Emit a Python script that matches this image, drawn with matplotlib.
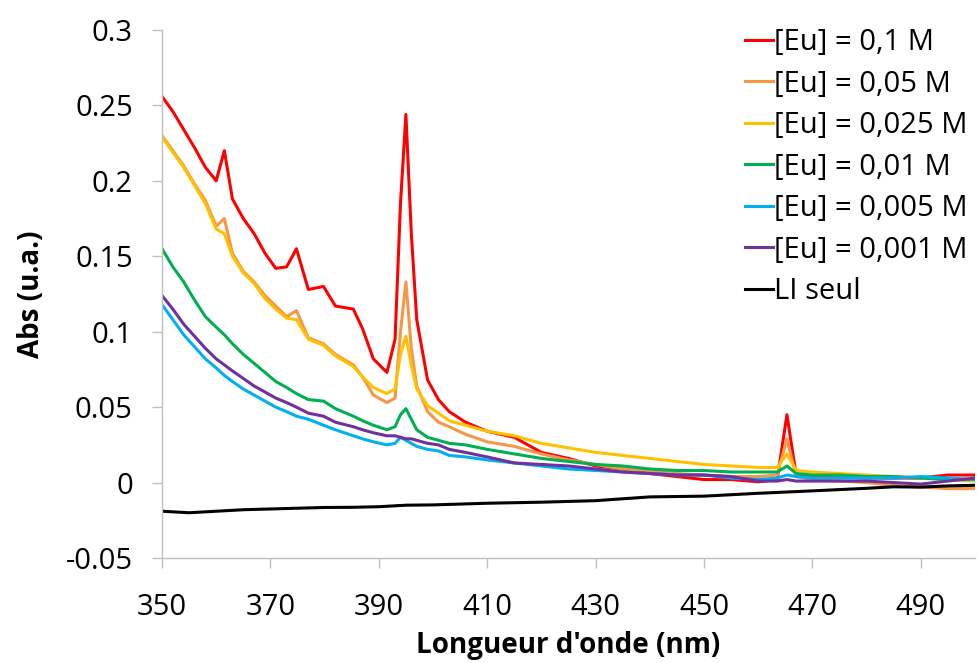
import matplotlib
matplotlib.use("Agg")
import matplotlib.pyplot as plt

plt.rcParams['font.family'] = ['Open Sans', 'DejaVu Sans']

wl = [350, 352, 354, 356, 358, 360, 361.5, 363, 365, 367, 369, 371, 373, 374.8, 377,
      379.8, 382, 385.3, 387, 389, 391.5, 393, 394, 395, 396, 397, 399, 401, 403, 406,
      410, 415, 420, 425, 430, 435, 440, 445, 450, 455, 460, 463.5, 465.3, 467, 470,
      475, 480, 485, 490, 495, 500]

eu_01 = [0.256, 0.246, 0.234, 0.222, 0.209, 0.200, 0.220, 0.188, 0.175, 0.165, 0.152,
         0.142, 0.143, 0.155, 0.128, 0.130, 0.117, 0.115, 0.102, 0.082, 0.073, 0.095,
         0.185, 0.244, 0.165, 0.108, 0.068, 0.055, 0.047, 0.040, 0.034, 0.030, 0.020,
         0.016, 0.011, 0.009, 0.006, 0.004, 0.002, 0.002, 0.0005, 0.002, 0.045, 0.005,
         0.004, 0.004, 0.003, 0.003, 0.003, 0.005, 0.005]

eu_005 = [0.230, 0.220, 0.210, 0.198, 0.187, 0.170, 0.175, 0.152, 0.140, 0.133, 0.124,
          0.117, 0.110, 0.114, 0.096, 0.092, 0.085, 0.078, 0.070, 0.058, 0.053, 0.056,
          0.100, 0.133, 0.089, 0.064, 0.047, 0.040, 0.037, 0.032, 0.027, 0.024, 0.019,
          0.015, 0.012, 0.009, 0.008, 0.006, 0.005, 0.004, 0.004, 0.005, 0.029, 0.004,
          0.002, 0.001, 0.000, -0.002, -0.003, -0.004, -0.004]

eu_0025 = [0.229, 0.219, 0.209, 0.197, 0.185, 0.168, 0.165, 0.150, 0.139, 0.132, 0.122,
           0.115, 0.109, 0.108, 0.095, 0.091, 0.084, 0.077, 0.070, 0.063, 0.059, 0.062,
           0.085, 0.097, 0.078, 0.062, 0.051, 0.046, 0.041, 0.038, 0.034, 0.031, 0.026,
           0.023, 0.020, 0.018, 0.016, 0.014, 0.012, 0.011, 0.010, 0.010, 0.019, 0.008,
           0.007, 0.006, 0.005, 0.004, 0.003, 0.002, 0.001]

eu_001 = [0.155, 0.143, 0.133, 0.121, 0.110, 0.103, 0.098, 0.092, 0.085, 0.079, 0.073,
          0.067, 0.063, 0.059, 0.055, 0.054, 0.049, 0.044, 0.041, 0.038, 0.035, 0.037,
          0.045, 0.049, 0.042, 0.035, 0.030, 0.028, 0.026, 0.025, 0.022, 0.019, 0.016,
          0.014, 0.012, 0.011, 0.009, 0.008, 0.008, 0.007, 0.007, 0.007, 0.011, 0.006,
          0.005, 0.005, 0.004, 0.004, 0.003, 0.002, 0.002]

eu_0005 = [0.118, 0.108, 0.098, 0.090, 0.082, 0.076, 0.071, 0.067, 0.062, 0.058, 0.054,
           0.050, 0.047, 0.044, 0.042, 0.038, 0.035, 0.031, 0.029, 0.027, 0.025, 0.026,
           0.030, 0.028, 0.026, 0.024, 0.022, 0.021, 0.018, 0.017, 0.015, 0.013, 0.011,
           0.009, 0.008, 0.007, 0.006, 0.005, 0.005, 0.003, 0.002, 0.003, 0.005, 0.004,
           0.003, 0.003, 0.003, 0.003, 0.004, 0.003, 0.002]

eu_0001 = [0.124, 0.115, 0.105, 0.097, 0.089, 0.082, 0.078, 0.074, 0.069, 0.064, 0.060,
           0.056, 0.053, 0.050, 0.046, 0.044, 0.040, 0.037, 0.035, 0.033, 0.031, 0.031,
           0.030, 0.029, 0.029, 0.028, 0.026, 0.025, 0.022, 0.020, 0.017, 0.013, 0.012,
           0.011, 0.009, 0.007, 0.006, 0.005, 0.005, 0.004, 0.001, 0.001, 0.002, 0.001,
           0.001, 0.001, 0.001, 0.000, -0.001, 0.001, 0.003]

wl_li = [350, 355, 360, 365, 370, 375, 380, 385, 390, 395, 400, 410, 420, 430, 440,
         450, 460, 470, 480, 485, 490, 495, 500]
li_seul = [-0.019, -0.020, -0.019, -0.018, -0.0175, -0.017, -0.0165, -0.0164, -0.016,
           -0.015, -0.0148, -0.0137, -0.013, -0.012, -0.0095, -0.009, -0.0071, -0.0055,
           -0.0038, -0.0028, -0.003, -0.0022, -0.0018]

labels = ["[Eu] = 0,1 M", "[Eu] = 0,05 M", "[Eu] = 0,025 M", "[Eu] = 0,01 M",
          "[Eu] = 0,005 M", "[Eu] = 0,001 M", "LI seul"]
colors = ["#FF0000", "#F79646", "#FFC000", "#00B050", "#00B0F0", "#7030A0", "#000000"]

xticks = [350, 370, 390, 410, 430, 450, 470, 490]
yticks = [-0.05, 0, 0.05, 0.1, 0.15, 0.2, 0.25, 0.3]
ytick_labels = ["-0.05", "0", "0.05", "0.1", "0.15", "0.2", "0.25", "0.3"]

fig = plt.figure(figsize=(9.77, 6.63), dpi=100)
ax = fig.add_axes([162 / 977, 1 - 558 / 663, (975 - 162) / 977, (558 - 30) / 663])

series = [(wl, eu_01), (wl, eu_005), (wl, eu_0025), (wl, eu_001), (wl, eu_0005),
          (wl, eu_0001), (wl_li, li_seul)]
for (x, y), lab, c in zip(series, labels, colors):
    ax.plot(x, y, color=c, lw=2.2, label=lab, solid_joinstyle='round')

ax.set_xlim(350, 500)
ax.set_ylim(-0.05, 0.3)
ax.set_xticks(xticks)
ax.set_yticks(yticks)
ax.set_yticklabels(ytick_labels)

for s in ["top", "right"]:
    ax.spines[s].set_visible(False)
for s in ["left", "bottom"]:
    ax.spines[s].set_color("#BFBFBF")
    ax.spines[s].set_linewidth(1.0)
ax.tick_params(axis='both', colors="#BFBFBF", labelcolor="#000000", labelsize=21,
               length=7, width=1.0, direction='out')
ax.tick_params(axis='y', pad=14)
ax.tick_params(axis='x', pad=18)

ax.set_xlabel("Longueur d'onde (nm)", fontsize=20, fontweight='bold', labelpad=7)
ax.set_ylabel("Abs (u.a.)", fontsize=20, fontweight='bold', labelpad=14)

leg = ax.legend(loc='upper left', bbox_to_anchor=(745 / 977, 1 - 28 / 663),
                bbox_transform=fig.transFigure, frameon=False, fontsize=21,
                handlelength=0.95, handletextpad=0.05, labelspacing=0.43,
                borderpad=0, borderaxespad=0)

fig.savefig("out.png", dpi=100)
